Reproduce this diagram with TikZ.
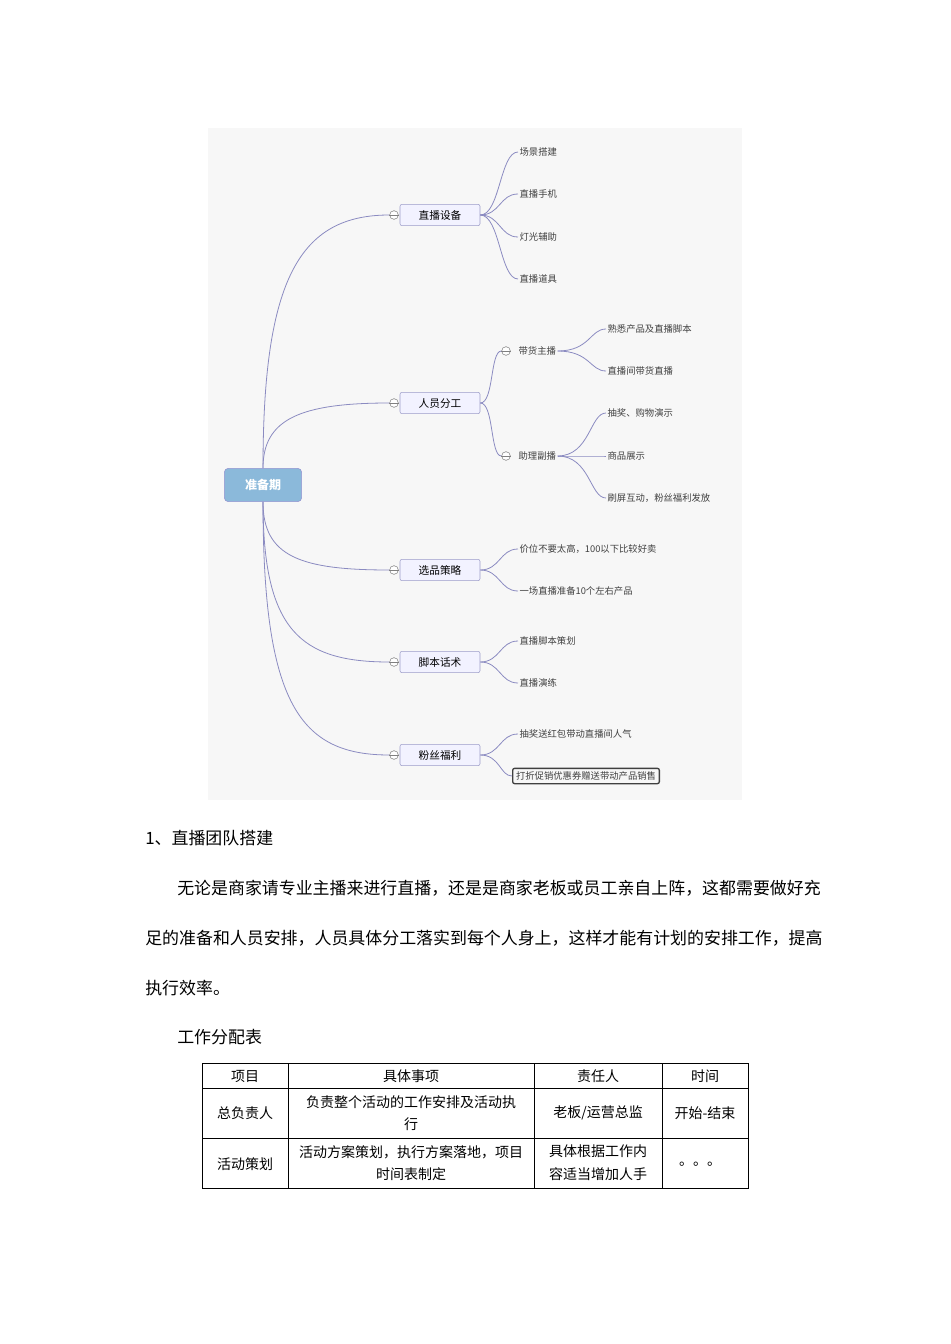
\documentclass[tikz,border=0pt]{standalone}
\usepackage{fontspec}
\setmainfont{Noto Sans CJK SC}
\begin{document}
\begin{tikzpicture}[x=0.75pt,y=-0.75pt,
  mm/.style={draw=none,font=\fontsize{7}{8}\selectfont,text=black!75,anchor=west,inner sep=1pt},
  mainbox/.style={draw=blue!30!gray!60,fill=blue!5!white,rounded corners=1.5pt,minimum width=60pt,minimum height=16pt,font=\fontsize{8}{9}\selectfont,inner sep=1pt},
  tog/.style={circle,draw=gray,fill=white,minimum size=6.5pt,inner sep=0pt},
  br/.style={draw=blue!30!gray!70,line width=0.6pt},
  body/.style={anchor=west,font=\fontsize{12.7}{14}\selectfont,inner sep=0pt},
  cell/.style={font=\fontsize{10.5}{17}\selectfont,align=center,inner sep=0pt}]
\useasboundingbox (0,0) rectangle (950,1344);
\fill[white] (0,0) rectangle (950,1344);
\fill[gray!6] (208,128) rectangle (742,800);
% root
\node[fill=blue!30!gray!70!cyan!60,draw=blue!40!gray!60,rounded corners=3pt,minimum width=58pt,minimum height=25pt,text=white,font=\fontsize{9}{10}\selectfont\bfseries] (root) at (263,485) {准备期};
% main nodes
\foreach \n/\t/\y in {a/直播设备/215,b/人员分工/403,c/选品策略/570,d/脚本话术/662,e/粉丝福利/755}{
  \node[mainbox] (\n) at (440,\y) {\t};
  \node[tog] (\n t) at (394,\y) {};
  \draw[gray] (\n t.west) -- (\n t.east);
}
\foreach \n/\y in {a/215,b/403}{
  \draw[br] (root.north) .. controls (263,{\y+ (468-\y)*0.25}) and (300,\y) .. (\n t.west);}
\foreach \n/\y in {c/570,d/662,e/755}{
  \draw[br] (root.south) .. controls (263,{\y-(\y-502)*0.2}) and (300,\y) .. (\n t.west);}
% leaves of a
\foreach \i/\t/\y in {1/场景搭建/152,2/直播手机/194,3/灯光辅助/237,4/直播道具/279}{
  \node[mm] (a\i) at (518,\y) {\t};
  \draw[br] (a.east) .. controls (500,215) and (500,\y) .. (a\i.west);}
% b subnodes
\node[tog] (b1t) at (506,351) {}; \draw[gray] (b1t.west)--(b1t.east);
\node[tog] (b2t) at (506,456) {}; \draw[gray] (b2t.west)--(b2t.east);
\node[mm] (b1) at (517,351) {带货主播};
\node[mm] (b2) at (517,456) {助理副播};
\draw[br] (b.east) .. controls (494,403) and (490,351) .. (b1t.west);
\draw[br] (b.east) .. controls (494,403) and (490,456) .. (b2t.west);
\foreach \i/\t/\y in {1/熟悉产品及直播脚本/329,2/直播间带货直播/371}{
  \node[mm] (b1\i) at (606,\y) {\t};
  \draw[br] (b1.east) .. controls (590,351) and (590,\y) .. (b1\i.west);}
\foreach \i/\t/\y in {1/抽奖、购物演示/413,2/商品展示/456,3/刷屏互动，粉丝福利发放/498}{
  \node[mm] (b2\i) at (606,\y) {\t};
  \draw[br] (b2.east) .. controls (590,456) and (590,\y) .. (b2\i.west);}
% c,d,e leaves
\foreach \p/\i/\t/\y/\py in {c/1/价位不要太高，100以下比较好卖/549/570,c/2/一场直播准备10个左右产品/591/570,d/1/直播脚本策划/641/662,d/2/直播演练/683/662,e/1/抽奖送红包带动直播间人气/734/755}{
  \node[mm] (\p\i) at (518,\y) {\t};
  \draw[br] (\p.east) .. controls (500,\py) and (500,\y) .. (\p\i.west);}
\node[mm,draw=black!75,line width=1pt,rounded corners=1.5pt,inner sep=2.5pt,anchor=west] (e2) at (512,776) {打折促销优惠券赠送带动产品销售};
\draw[br] (e.east) .. controls (500,755) and (500,776) .. (e2.west);
% text body
\node[body] (h1) at (145,838) {1、直播团队搭建};
\node[body] (p1) at (177,888) {无论是商家请专业主播来进行直播，还是是商家老板或员工亲自上阵，这都需要做好充};
\node[body] (p2) at (145,938) {足的准备和人员安排，人员具体分工落实到每个人身上，这样才能有计划的安排工作，提高};
\node[body] (p3) at (145,988) {执行效率。};
\node[body] (tt) at (177,1037) {工作分配表};
% table
\draw[line width=0.6pt] (202,1063) rectangle (748,1188);
\draw[line width=0.6pt] (202,1088) -- (748,1088) (202,1138) -- (748,1138);
\draw[line width=0.6pt] (288,1063) -- (288,1188) (534,1063) -- (534,1188) (662,1063) -- (662,1188);
\node[cell] (h1c) at (245,1076) {项目};
\node[cell] (h2c) at (411,1076) {具体事项};
\node[cell] (h3c) at (598,1076) {责任人};
\node[cell] (h4c) at (705,1076) {时间};
\node[cell] (r11) at (245,1113) {总负责人};
\node[cell] (r12) at (411,1113) {负责整个活动的工作安排及活动执\\行};
\node[cell] (r13) at (598,1113) {老板/运营总监};
\node[cell] (r14) at (705,1113) {开始-结束};
\node[cell] (r21) at (245,1164) {活动策划};
\node[cell] (r22) at (411,1163) {活动方案策划，执行方案落地，项目\\时间表制定};
\node[cell] (r23) at (598,1163) {具体根据工作内\\容适当增加人手};
\node[cell] (r24) at (700,1164) {。。。};
\end{tikzpicture}
\end{document}
